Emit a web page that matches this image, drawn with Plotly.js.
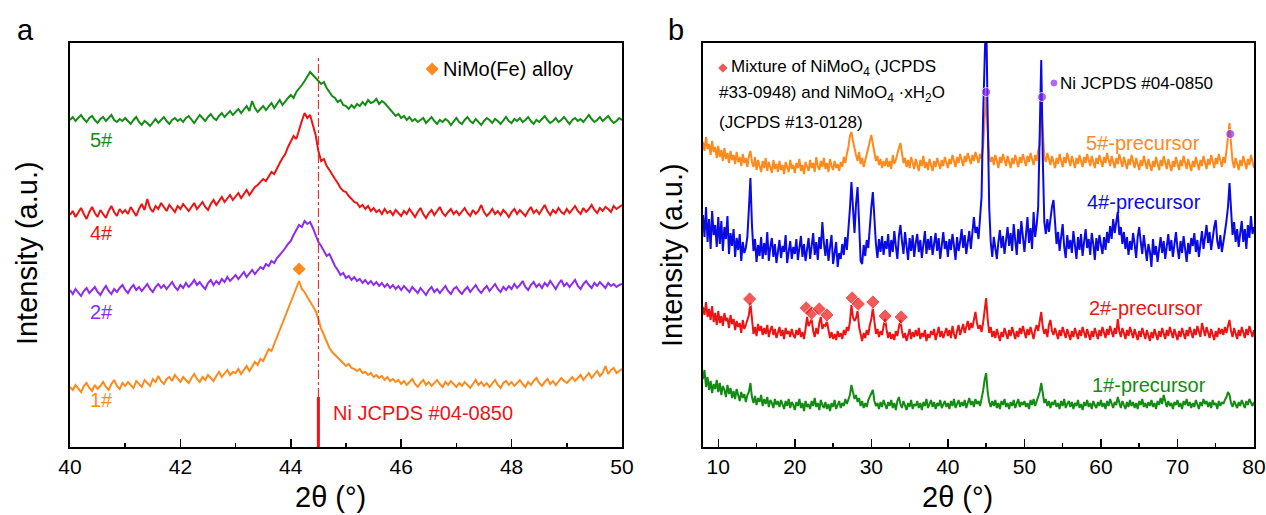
<!DOCTYPE html>
<html>
<head>
<meta charset="utf-8">
<script src="https://cdn.plot.ly/plotly-3.0.1.min.js"></script>
<style>html,body{margin:0;padding:0;background:#fff;}#chart{width:1266px;height:515px;}</style>
</head>
<body>
<div id="chart"></div>
<script>
// ---------- Panel a : 2θ 40–50°, step 0.05° (intensity, stacked offsets included) ----------
const aStart = 40, aStep = 0.05;
const a5 = [
327,330,326,329,332,328,325,329,331,327,324,328,330,326,329,332,327,325,328,326,
329,326,323,327,330,325,322,326,324,321,325,328,324,327,330,326,323,327,329,326,
328,325,329,331,327,324,328,332,329,326,330,333,329,327,331,334,330,333,336,332,
335,338,334,337,341,336,346,339,335,338,341,337,340,344,339,343,347,342,346,349,
352,349,355,358,362,366,370,375,372,369,366,363,365,359,355,351,349,345,347,342,
341,338,342,339,343,341,345,342,347,344,345,348,343,346,344,341,338,335,331,333,
329,331,327,330,326,328,325,327,329,324,327,330,326,323,327,325,328,326,322,326,
329,325,323,327,330,326,324,328,325,322,326,329,327,324,328,326,323,327,330,326,
324,328,326,329,325,327,330,326,323,327,325,328,331,327,324,326,329,325,327,330,
326,323,327,329,326,328,325,329,332,328,325,327,330,326,329,331,327,324,326,329,
327];
const a4 = [
232,236,230,234,239,233,228,235,240,234,230,237,233,229,236,241,235,231,238,234,
237,233,240,236,231,238,243,237,248,239,235,241,238,244,240,236,242,239,235,241,
238,243,239,236,240,244,238,241,245,240,237,243,247,242,246,250,245,248,252,247,
250,254,249,253,257,252,256,260,262,265,268,266,271,275,273,279,284,289,293,300,
305,311,308,318,326,334,329,332,322,312,296,286,288,281,277,272,268,264,259,256,
255,251,248,245,244,240,242,238,241,236,239,235,237,233,238,234,236,232,237,234,
231,236,233,238,234,230,235,239,233,229,234,237,232,236,240,234,231,235,238,233,
236,232,235,239,234,231,237,233,236,242,235,231,234,238,233,236,232,237,234,230,
235,238,233,237,234,231,236,240,234,237,233,238,242,236,232,237,234,239,235,233,
238,234,237,241,236,233,239,235,238,242,237,234,239,236,240,238,235,241,238,240,
242];
const a2 = [
157,153,158,155,151,156,159,154,157,160,155,152,157,161,156,153,158,155,159,162,
157,154,159,162,157,160,156,159,163,158,155,160,163,159,162,158,161,165,160,157,
162,159,164,160,163,167,162,165,161,158,164,167,162,166,163,168,165,170,166,169,
172,168,171,175,170,174,177,173,176,180,178,183,181,186,184,189,192,195,199,203,
206,212,217,222,220,226,223,225,219,212,205,201,196,191,193,186,181,177,172,174,
169,171,167,170,166,168,164,167,163,166,162,165,161,164,160,163,159,162,158,161,
157,161,158,155,160,157,154,159,156,152,157,160,155,158,154,157,161,156,153,158,
160,156,153,157,160,155,158,162,157,154,158,161,156,159,163,158,155,160,157,161,
158,163,159,162,166,160,157,162,165,160,163,159,164,161,166,162,158,163,167,161,
164,160,163,167,161,158,163,166,162,159,164,161,165,162,159,164,161,163,160,162,
163];
const a1 = [
60,57,62,58,55,61,64,59,56,62,58,61,65,60,57,63,67,61,58,64,
61,65,62,59,66,63,60,67,64,61,68,65,71,66,63,68,70,66,72,68,
65,70,67,64,69,73,68,65,70,67,72,69,66,71,75,70,73,77,72,75,
74,78,73,77,81,76,80,85,82,88,86,93,98,96,103,110,118,126,133,140,
146,154,160,166,158,155,150,145,141,136,128,118,112,105,99,95,92,89,87,84,
81,83,79,78,76,78,74,75,72,74,70,72,69,71,67,70,66,68,65,67,
63,66,62,65,68,63,60,64,67,62,65,61,64,67,63,60,65,62,66,63,
60,64,61,65,62,59,63,67,62,65,61,64,60,63,67,62,59,64,66,62,
65,61,64,67,63,60,65,62,66,69,64,61,65,68,63,66,62,65,69,66,
64,67,70,66,69,72,67,70,74,69,72,76,71,74,81,73,77,79,74,76,
78];
const aLabels = ['5#','4#','2#','1#'];
const aLabelY = [307, 214, 135, 47];
const alloyPeakX = [44.15], alloyPeakY = [178];
const niRefX = 44.5;

// ---------- Panel b : 2θ 8–80°, step 0.2° ----------
const bStart = 8, bStep = 0.2;
const b5 = [
305,296,310,298,303,292,306,295,300,289,
301,290,297,286,299,288,294,284,296,287,
292,283,295,285,290,281,293,284,289,280,
291,296,285,280,290,277,287,281,275,286,
279,289,276,285,280,274,287,278,283,275,
286,277,282,273,285,279,275,287,278,282,
274,284,279,288,276,282,273,285,280,276,
287,279,284,275,290,281,277,286,280,289,
278,284,275,288,281,277,286,279,283,276,
285,280,290,284,293,300,311,315,306,297,
292,286,295,283,289,280,287,293,301,307,
312,303,294,286,291,282,288,279,286,281,
289,280,286,278,292,283,287,294,299,304,
292,284,289,280,287,279,290,283,278,288,
282,276,287,281,291,279,285,277,288,282,
276,286,280,289,283,278,287,281,290,284,
279,288,283,292,285,280,290,284,293,286,
281,291,285,294,287,283,292,286,295,289,
284,293,288,300,328,352,318,291,285,290,
282,292,286,279,290,284,293,287,281,291,
285,279,289,283,292,286,280,290,284,293,
287,281,291,285,294,288,282,292,286,296,
303,345,310,290,285,294,288,282,291,285,
279,289,283,293,286,280,290,284,294,287,
281,291,285,279,289,283,292,286,280,290,
284,293,287,281,291,285,279,289,283,292,
286,280,290,284,294,287,281,291,285,279,
289,283,293,286,280,290,284,278,288,282,
292,285,279,289,283,277,287,281,291,284,
278,288,282,276,286,280,290,283,277,287,
281,291,284,278,288,282,276,286,280,290,
283,277,287,281,291,284,278,288,282,276,
286,280,290,283,277,287,281,291,284,278,
288,282,292,285,279,289,283,293,286,280,
290,284,296,312,324,303,286,279,289,283,
277,287,281,291,284,278,288,282,292,285,
279];
const b4 = [
232,210,240,205,228,198,236,212,222,200,
230,203,226,196,220,208,231,193,214,201,
218,190,209,197,213,186,205,194,199,210,
238,269,222,196,208,185,202,191,210,188,
204,192,215,186,200,209,190,203,184,198,
207,189,201,195,212,184,197,206,188,200,
193,208,187,199,211,190,203,186,196,209,
188,201,214,192,205,187,210,198,225,204,
191,208,186,200,212,183,197,205,180,194,
188,203,192,210,197,215,238,265,236,214,
243,260,224,186,183,202,191,207,199,222,
240,255,226,203,189,208,195,211,192,206,
198,213,190,207,195,216,201,188,211,222,
206,193,215,198,187,209,196,212,190,204,
213,195,207,189,202,216,193,208,197,211,
192,205,214,196,209,188,203,215,198,206,
190,208,197,213,201,187,210,196,205,218,
199,212,193,207,216,198,211,230,214,220,
208,226,250,330,430,440,330,240,205,190,
210,196,188,205,217,199,211,193,208,220,
201,214,196,223,207,192,218,203,226,209,
195,212,230,204,219,198,235,210,222,240,
300,387,290,225,213,228,215,230,240,247,
222,203,215,196,210,223,200,189,212,198,
207,194,216,202,188,210,197,213,191,205,
218,199,208,192,214,203,187,209,196,212,
201,193,210,197,215,204,221,208,228,214,
225,235,212,220,203,215,198,210,192,206,
197,214,203,189,210,220,205,193,212,199,
186,203,195,180,208,192,201,185,198,210,
194,206,188,200,213,196,207,190,202,215,
199,188,206,194,211,197,185,204,193,209,
201,214,195,207,190,203,216,198,210,222,
204,215,197,209,220,227,206,198,212,195,
208,215,226,240,264,236,212,225,205,218,
200,214,226,205,218,198,222,209,231,213,
220];
const b2 = [
140,132,145,130,138,127,141,125,134,122,
136,124,131,121,134,126,129,119,132,123,
128,117,126,120,124,114,127,118,122,126,
132,144,124,113,120,111,123,116,121,112,
119,113,122,110,117,121,112,118,109,116,
120,111,117,108,119,113,116,110,118,112,
109,117,112,119,110,115,108,118,130,121,
124,128,116,110,119,113,124,130,118,122,
121,126,117,109,115,108,113,107,116,110,
114,108,117,112,120,116,125,142,130,126,
129,136,120,112,106,114,109,117,112,122,
128,139,124,113,118,110,116,112,121,128,
117,109,115,108,113,107,116,111,120,127,
116,109,114,106,112,118,108,115,110,117,
111,119,108,114,110,117,106,113,109,116,
112,118,107,114,120,110,116,109,115,119,
111,117,109,121,113,108,116,122,112,118,
123,114,120,126,117,124,119,129,135,124,
118,122,115,124,138,149,128,114,120,110,
116,109,118,112,106,115,110,119,113,108,
117,111,120,114,108,116,110,119,113,121,
115,109,118,112,120,114,108,117,122,116,
124,135,120,113,118,110,122,127,116,112,
119,113,108,117,111,120,114,109,118,112,
107,116,110,119,113,108,117,111,120,114,
109,118,112,107,116,110,119,113,108,117,
111,120,114,109,118,112,121,115,110,119,
113,128,116,110,119,114,108,117,111,120,
114,109,118,112,107,116,110,119,113,108,
117,111,106,115,109,118,112,107,116,110,
119,113,108,117,111,120,114,109,118,112,
107,116,110,119,113,108,117,111,120,114,
109,118,112,121,115,110,124,116,111,120,
114,109,118,112,107,116,110,119,113,118,
112,120,114,121,127,116,110,119,113,108,
117,111,120,114,109,118,112,121,115,110,
117];
const b1 = [
68,77,60,70,57,66,54,63,58,67,
55,64,52,61,57,50,62,53,59,49,
56,48,58,51,46,55,49,53,45,52,
55,64,50,44,51,42,49,45,52,41,
48,43,50,40,47,44,39,48,42,46,
40,47,43,38,46,41,48,39,45,42,
37,45,41,48,39,44,36,46,40,43,
38,46,41,49,40,44,37,47,42,39,
45,38,43,36,44,40,47,38,42,46,
39,44,41,48,43,47,52,62,53,48,
52,45,49,41,46,39,44,40,47,51,
53,57,46,41,44,38,45,40,47,42,
38,45,41,47,39,44,37,46,50,43,
39,46,41,37,44,40,47,38,43,41,
46,39,44,37,45,41,48,39,43,47,
40,45,38,44,41,47,39,43,46,40,
44,38,46,41,48,39,43,47,40,45,
41,47,39,44,49,42,46,40,48,43,
46,41,48,56,67,74,55,45,40,46,
41,47,39,44,38,46,42,48,40,44,
38,45,41,47,39,43,48,40,45,42,
46,40,44,38,47,42,48,41,45,50,
55,64,52,44,48,41,46,39,45,42,
47,40,44,38,46,41,48,39,43,46,
40,45,38,44,41,47,39,43,37,45,
41,47,40,44,38,46,42,39,45,41,
47,40,44,38,46,41,48,43,39,45,
42,50,44,39,46,41,38,45,40,47,
41,45,39,44,38,46,42,48,40,44,
39,45,41,47,40,44,38,46,42,49,
43,52,45,40,46,41,44,38,45,42,
47,40,44,38,46,42,48,41,45,39,
44,40,47,42,38,45,41,48,43,46,
40,45,39,47,42,44,38,46,41,45,
43,47,50,55,52,44,40,46,42,39,
45,41,47,43,39,46,42,48,44,41,
45];
const bLabels = ['5#-precursor','4#-precursor','2#-precursor','1#-precursor'];
const bLabelX = [57.8, 57.9, 58.2, 58.6];
const bLabelY = [304, 245, 139, 62];
const mixX = [14.1, 21.5, 22.2, 23.2, 24.2, 27.5, 28.3, 30.2, 31.8, 33.9];
const mixY = [148, 139, 134, 138, 132, 149, 143, 145, 131, 130];
const niX = [45.0, 52.3, 76.9];
const niY = [355, 350, 313];

// ---------- helpers ----------
function grid(start, step, n) {
  const out = [];
  for (let i = 0; i < n; i++) out.push(+(start + i * step).toFixed(2));
  return out;
}
const xa = grid(aStart, aStep, a5.length);
const xb = grid(bStart, bStep, b5.length);

const C = {green:'#138c13', red:'#ee1414', purple:'#8e2bf0', orange:'#ff8a1c', blue:'#0a0ae6'};
const FONT = 'Liberation Sans, Arial, sans-serif';

function line(x, y, color, xa_, ya_, w) {
  return {x:x, y:y, type:'scatter', mode:'lines', line:{color:color, width:w},
          xaxis:xa_, yaxis:ya_, hoverinfo:'skip', showlegend:false};
}

const traces = [
  line(xa, a5, C.green, 'x', 'y', 2),
  line(xa, a4, C.red, 'x', 'y', 2),
  line(xa, a2, C.purple, 'x', 'y', 2),
  line(xa, a1, C.orange, 'x', 'y', 2),
  line(xb, b5, C.orange, 'x2', 'y2', 2),
  line(xb, b4, C.blue, 'x2', 'y2', 2),
  line(xb, b2, C.red, 'x2', 'y2', 2),
  line(xb, b1, C.green, 'x2', 'y2', 2),
  {x:alloyPeakX.concat([46.56]), y:alloyPeakY.concat([378]), type:'scatter', mode:'markers',
   marker:{symbol:'diamond', size:10, color:C.orange}, xaxis:'x', yaxis:'y', showlegend:false, hoverinfo:'skip', cliponaxis:false},
  {x:mixX.concat([10.6]), y:mixY.concat([379]), type:'scatter', mode:'markers',
   marker:{symbol:'diamond', size:[11,11,11,11,11,11,11,11,11,11,8], color:C.red}, xaxis:'x2', yaxis:'y2', showlegend:false, hoverinfo:'skip', cliponaxis:false},
  {x:niX.concat([53.86]), y:niY.concat([364]), type:'scatter', mode:'markers',
   marker:{symbol:'circle', size:[9,9,9,8], color:C.purple}, xaxis:'x2', yaxis:'y2', showlegend:false, hoverinfo:'skip', cliponaxis:false}
];

const annotations = [];
function ann(o) { annotations.push(Object.assign({showarrow:false, font:{family:FONT, size:20, color:'#000'}}, o)); }

// panel letters & titles
ann({text:'a', xref:'paper', yref:'paper', x:-0.038, y:1.032, xanchor:'center', yanchor:'middle', font:{family:FONT, size:29, color:'#000'}});
ann({text:'b', xref:'paper', yref:'paper', x:0.5118, y:1.032, xanchor:'center', yanchor:'middle', font:{family:FONT, size:29, color:'#000'}});
ann({text:'2θ (°)', xref:'paper', yref:'paper', x:0.2196, y:-0.1238, xanchor:'center', yanchor:'middle', font:{family:FONT, size:29, color:'#000'}});
ann({text:'2θ (°)', xref:'paper', yref:'paper', x:0.7492, y:-0.1238, xanchor:'center', yanchor:'middle', font:{family:FONT, size:29, color:'#000'}});
ann({text:'Intensity (a.u.)', xref:'paper', yref:'paper', x:-0.0363, y:0.48, textangle:-90, xanchor:'center', yanchor:'middle', font:{family:FONT, size:29, color:'#000'}});
ann({text:'Intensity (a.u.)', xref:'paper', yref:'paper', x:0.5084, y:0.475, textangle:-90, xanchor:'center', yanchor:'middle', font:{family:FONT, size:29, color:'#000'}});

// panel a labels
const aColors = [C.green, C.red, C.purple, C.orange];
aLabels.forEach((t, i) => ann({text:t, xref:'x', yref:'y', x:40.33, y:aLabelY[i], xanchor:'left', yanchor:'middle', font:{family:FONT, size:20, color:aColors[i]}}));
ann({text:'NiMo(Fe) alloy', xref:'x', yref:'y', x:46.72, y:378, xanchor:'left', yanchor:'middle', font:{family:FONT, size:20, color:'#000'}});
ann({text:'Ni JCPDS #04-0850', xref:'x', yref:'y', x:44.73, y:34, xanchor:'left', yanchor:'middle', font:{family:FONT, size:20, color:C.red}});

// panel b labels
const bColors = [C.orange, C.blue, C.red, C.green];
bLabels.forEach((t, i) => ann({text:t, xref:'x2', yref:'y2', x:bLabelX[i], y:bLabelY[i], xanchor:'left', yanchor:'middle', font:{family:FONT, size:20, color:bColors[i]}}));
ann({text:'Mixture of NiMoO<sub>4</sub> (JCPDS', xref:'x2', yref:'y2', x:11.4, y:379, xanchor:'left', yanchor:'middle', font:{family:FONT, size:17, color:'#000'}});
ann({text:'#33-0948) and NiMoO<sub>4</sub> ·xH<sub>2</sub>O', xref:'x2', yref:'y2', x:9.85, y:353, xanchor:'left', yanchor:'middle', font:{family:FONT, size:17, color:'#000'}});
ann({text:'(JCPDS #13-0128)', xref:'x2', yref:'y2', x:9.85, y:325, xanchor:'left', yanchor:'middle', font:{family:FONT, size:17, color:'#000'}});
ann({text:'Ni JCPDS #04-0850', xref:'x2', yref:'y2', x:54.4, y:364, xanchor:'left', yanchor:'middle', font:{family:FONT, size:17, color:'#000'}});

const shapes = [
  {type:'line', xref:'x', yref:'y', x0:niRefX, x1:niRefX, y0:50, y1:390, line:{color:C.red, width:1, dash:'dashdot'}},
  {type:'line', xref:'x', yref:'y', x0:niRefX, x1:niRefX, y0:0, y1:50, line:{color:C.red, width:3}}
];

function xaxis(domain, range, dtick, minor, anchor) {
  return {domain:domain, range:range, dtick:dtick, tick0:0, anchor:anchor, ticks:'inside', ticklen:8, tickwidth:1.5, tickcolor:'#000',
          minor:{ticks:'inside', ticklen:4, tickwidth:1.5, dtick:minor, tick0:0, tickcolor:'#000'},
          showline:true, linecolor:'#000', linewidth:2, mirror:true, showgrid:false, zeroline:false,
          ticklabeloverflow:'allow', tickfont:{family:FONT, size:21, color:'#000'}, fixedrange:true};
}
function yaxis(anchor) {
  return {domain:[0,1], range:[0,404], anchor:anchor, showticklabels:false, ticks:'', showline:true, linecolor:'#000', linewidth:2,
          mirror:true, showgrid:false, zeroline:false, fixedrange:true};
}

const layout = {
  width:1266, height:515,
  margin:{l:70, r:12, t:43, b:68},
  paper_bgcolor:'#fff', plot_bgcolor:'#fff',
  showlegend:false,
  xaxis: xaxis([0, 0.4662], [40, 50], 2, 1, 'y'),
  yaxis: yaxis('x'),
  xaxis2: xaxis([0.5346, 1], [8, 80], 10, 5, 'y2'),
  yaxis2: yaxis('x2'),
  annotations: annotations,
  shapes: shapes
};

Plotly.newPlot('chart', traces, layout, {displayModeBar:false, staticPlot:true});
</script>
</body>
</html>
